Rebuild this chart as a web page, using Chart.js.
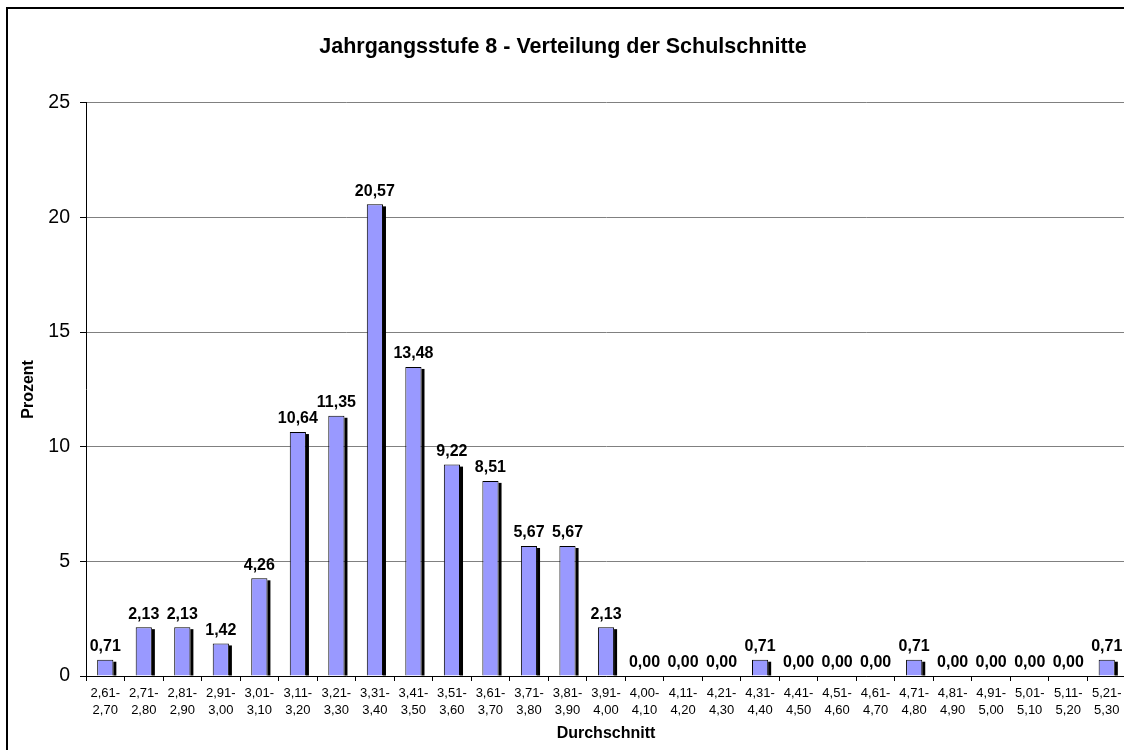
<!DOCTYPE html>
<html>
<head>
<meta charset="utf-8">
<script src="https://cdn.jsdelivr.net/npm/chart.js@4/dist/chart.umd.min.js"></script>
<style>
  html, body { margin: 0; padding: 0; background: #fff; overflow: hidden; }
  #wrap { position: absolute; left: 0; top: 0; width: 1124px; height: 750px; overflow: hidden; }
  #c { display: block; }
</style>
</head>
<body>
<div id="wrap"><canvas id="c" width="1126" height="750"></canvas></div>
<script>
const categories = [
  ['2,61-','2,70'], ['2,71-','2,80'], ['2,81-','2,90'], ['2,91-','3,00'], ['3,01-','3,10'],
  ['3,11-','3,20'], ['3,21-','3,30'], ['3,31-','3,40'], ['3,41-','3,50'], ['3,51-','3,60'],
  ['3,61-','3,70'], ['3,71-','3,80'], ['3,81-','3,90'], ['3,91-','4,00'], ['4,00-','4,10'],
  ['4,11-','4,20'], ['4,21-','4,30'], ['4,31-','4,40'], ['4,41-','4,50'], ['4,51-','4,60'],
  ['4,61-','4,70'], ['4,71-','4,80'], ['4,81-','4,90'], ['4,91-','5,00'], ['5,01-','5,10'],
  ['5,11-','5,20'], ['5,21-','5,30']
];
const percentValues = [
  0.71, 2.13, 2.13, 1.42, 4.26, 10.64, 11.35, 20.57, 13.48, 9.22, 8.51, 5.67, 5.67, 2.13,
  0.00, 0.00, 0.00, 0.71, 0.00, 0.00, 0.00, 0.71, 0.00, 0.00, 0.00, 0.00, 0.71
];
const yTicks = [0, 5, 10, 15, 20, 25];

const FONT = "'Liberation Sans', Arial, Helvetica, sans-serif";
Chart.defaults.font.family = FONT;
Chart.defaults.color = '#000';

// outer chart frame (left and top edges are visible; the rest lies outside the picture)
const framePlugin = {
  id: 'outerFrame',
  beforeDraw(chart) {
    const ctx = chart.ctx;
    ctx.save();
    ctx.fillStyle = '#fff';
    ctx.fillRect(0, 0, chart.width, chart.height);
    ctx.strokeStyle = '#000';
    ctx.lineWidth = 2;
    ctx.beginPath();
    ctx.moveTo(7, chart.height + 5);
    ctx.lineTo(7, 8);
    ctx.lineTo(chart.width + 5, 8);
    ctx.stroke();
    ctx.restore();
  }
};

// black drop shadow on the right side of each bar, taken from the bar elements
const shadowPlugin = {
  id: 'barShadow',
  beforeDatasetsDraw(chart) {
    const ctx = chart.ctx;
    const meta = chart.getDatasetMeta(0);
    ctx.save();
    ctx.fillStyle = '#000';
    meta.data.forEach((el) => {
      const h = el.base - el.y;
      if (h <= 0.5) return;
      ctx.fillRect(el.x + el.width / 2, el.y + 2, 3, h - 2);
    });
    ctx.restore();
  }
};

const labelPlugin = {
  id: 'valueLabels',
  afterDatasetsDraw(chart) {
    const ctx = chart.ctx;
    const meta = chart.getDatasetMeta(0);
    ctx.save();
    ctx.font = "bold 16px " + FONT;
    ctx.fillStyle = '#000';
    ctx.textAlign = 'center';
    ctx.textBaseline = 'bottom';
    meta.data.forEach((el, i) => {
      const v = chart.data.datasets[0].data[i];
      const txt = v.toFixed(2).replace('.', ',');
      ctx.fillText(txt, el.x, el.y - 5);
    });
    ctx.restore();
  }
};

new Chart(document.getElementById('c'), {
  type: 'bar',
  data: {
    labels: categories,
    datasets: [{
      data: percentValues,
      backgroundColor: '#9999FF',
      borderColor: '#000',
      borderWidth: 1,
      categoryPercentage: 1.0,
      barPercentage: 0.42
    }]
  },
  options: {
    responsive: false,
    animation: false,
    devicePixelRatio: 1,
    layout: { padding: { left: 0, right: 0, top: 0, bottom: 0 } },
    plugins: {
      legend: { display: false },
      tooltip: { enabled: false },
      title: {
        display: true,
        text: 'Jahrgangsstufe 8 - Verteilung der Schulschnitte',
        font: { size: 21.5, weight: 'bold', family: FONT },
        color: '#000',
        padding: { top: 34, bottom: 43 }
      }
    },
    scales: {
      x: {
        offset: true,
        grid: { display: true, drawOnChartArea: false, drawTicks: true, tickLength: 5, tickColor: '#000', offset: true },
        border: { display: true, color: '#000', width: 1 },
        ticks: { font: { size: 13, lineHeight: 1.3 }, color: '#000', padding: 4, maxRotation: 0, autoSkip: false },
        title: { display: true, text: 'Durchschnitt', font: { size: 16, weight: 'bold' }, color: '#000', padding: { top: 0, bottom: 7 } },
        afterFit(scale) { scale.height = 74; }
      },
      y: {
        min: 0,
        max: 25,
        afterBuildTicks(scale) { scale.ticks = yTicks.map(v => ({ value: v })); },
        grid: { color: '#808080', lineWidth: 1, tickLength: 6, tickColor: '#000' },
        border: { display: true, color: '#000', width: 1 },
        ticks: { font: { size: 19.5 }, color: '#000', padding: 10 },
        title: { display: true, text: 'Prozent', font: { size: 16, weight: 'bold' }, color: '#000', padding: { top: 19, bottom: 0 } },
        afterFit(scale) { scale.width = 86; }
      }
    }
  },
  plugins: [framePlugin, shadowPlugin, labelPlugin]
});
</script>
</body>
</html>
